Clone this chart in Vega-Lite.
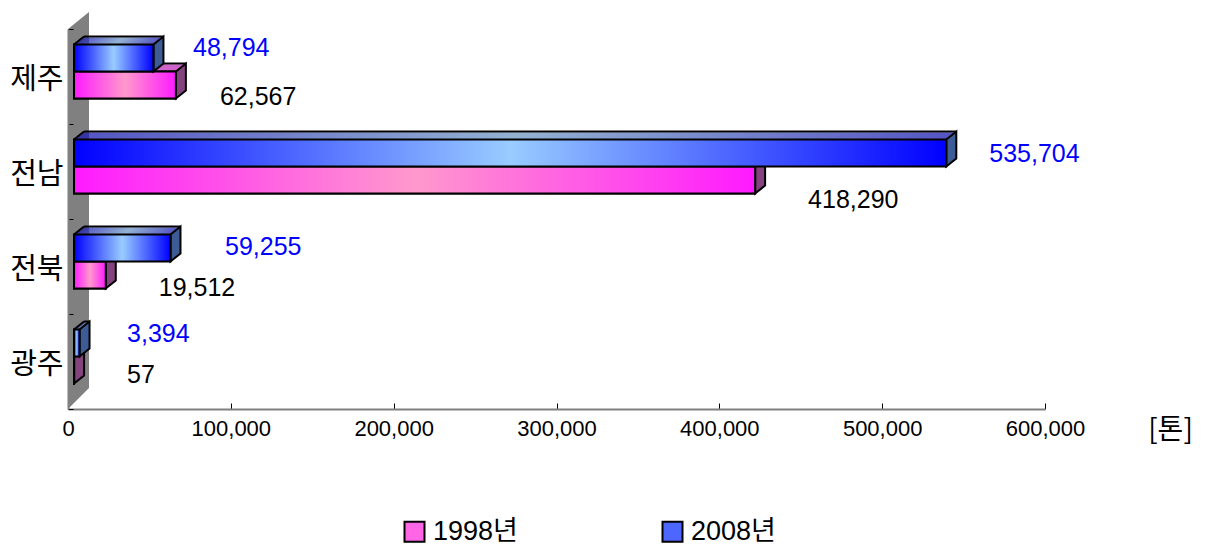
{"$schema":"https://vega.github.io/schema/vega-lite/v6.json","width":977,"height":380,"autosize":{"type":"none"},"padding":{"left":68,"top":29,"right":161,"bottom":137},"background":"white","config":{"view":{"stroke":null}},
"datasets":{"d":[{"region":"제주","year":"1998년","value":62567},{"region":"제주","year":"2008년","value":48794},{"region":"전남","year":"1998년","value":418290},{"region":"전남","year":"2008년","value":535704},{"region":"전북","year":"1998년","value":19512},{"region":"전북","year":"2008년","value":59255},{"region":"광주","year":"1998년","value":57},{"region":"광주","year":"2008년","value":3394}]},
"data":{"name":"d"},
"encoding":{"x":{"field":"value","type":"quantitative","scale":{"domain":[0,600000],"nice":false},"axis":{"title":"[톤]","titleFont":"Noto Sans CJK KR","titleFontWeight":"normal","titleFontSize":28,"titleColor":"#000","titleX":1102,"titleY":21,"titleBaseline":"middle","format":",d","values":[0,100000,200000,300000,400000,500000,600000],"grid":false,"tickSize":-6,"tickColor":"#000","domainColor":"#808080","domainWidth":2,"labelFont":"Liberation Sans","labelFontSize":22,"labelColor":"#000","labelPadding":25,"labelBaseline":"middle","labelOverlap":false,"labelFlush":false,"zindex":1}},
"y":{"field":"region","type":"nominal","sort":["제주","전남","전북","광주"],"scale":{"paddingInner":0,"paddingOuter":0},"axis":{"title":null,"tickSize":-5,"tickBand":"extent","tickColor":"#000","domainColor":"#808080","domainWidth":2,"labelFont":"Noto Sans CJK KR","labelFontSize":29,"labelColor":"#000","labelPadding":10,"labelOffset":3,"zindex":1}}},
"layer":[
{"transform":[{"filter":"datum.region=='광주'&&datum.year=='1998년'"}],"mark":{"type":"point","shape":"M0 0L21 -21L21 -397L0 -380Z","size":4,"filled":true,"fill":"#808080","opacity":1,"yOffset":47.5},"encoding":{"x":{"datum":0}}},

{"transform":[{"filter":"datum.year=='1998년'"}],"layer":[
{"mark":{"type":"bar","size":1,"xOffset":7.25,"x2Offset":7.25,"yOffset":-5.5,"fill":"#c030b8"},"encoding":{"x2":{"datum":0}}},
{"mark":{"type":"bar","size":1,"xOffset":8.5,"x2Offset":8.5,"yOffset":-6.5,"fill":"#c030b8"},"encoding":{"x2":{"datum":0}}},
{"mark":{"type":"bar","size":1,"xOffset":9.75,"x2Offset":9.75,"yOffset":-7.5,"fill":"#c030b8"},"encoding":{"x2":{"datum":0}}},
{"mark":{"type":"bar","size":1,"xOffset":11,"x2Offset":11,"yOffset":-8.5,"fill":"#c030b8"},"encoding":{"x2":{"datum":0}}},
{"mark":{"type":"bar","size":1,"xOffset":12.25,"x2Offset":12.25,"yOffset":-9.5,"fill":"#c030b8"},"encoding":{"x2":{"datum":0}}},
{"mark":{"type":"bar","size":1,"xOffset":13.5,"x2Offset":13.5,"yOffset":-10.5,"fill":"#c030b8"},"encoding":{"x2":{"datum":0}}},
{"mark":{"type":"bar","size":1,"xOffset":14.75,"x2Offset":14.75,"yOffset":-11.5,"fill":"#c030b8"},"encoding":{"x2":{"datum":0}}},
{"mark":{"type":"bar","size":2,"xOffset":16,"x2Offset":16,"yOffset":-13,"fill":"#000"},"encoding":{"x2":{"datum":0}}},
{"mark":{"type":"point","shape":"M0 0L10 -8","size":4,"fill":null,"stroke":"#000","strokeWidth":2,"opacity":1,"xOffset":6,"yOffset":-5},"encoding":{"x":{"datum":0}}},
{"mark":{"type":"point","shape":"M0 0L10 -8L10 19L0 27Z","size":4,"filled":true,"fill":"#84427f","stroke":"#000","strokeWidth":2,"opacity":1,"xOffset":6,"yOffset":-5}},
{"mark":{"type":"bar","size":27,"xOffset":6,"x2Offset":6,"yOffset":8.5,"stroke":"#000","strokeWidth":2},"encoding":{"x2":{"datum":0},"color":{"field":"year","type":"nominal","scale":{"domain":["1998년","2008년"],"range":["#ff66e6","#4d66ff"]},"legend":{"title":null,"orient":"none","legendX":333,"legendY":489,"direction":"horizontal","columns":2,"columnPadding":140,"symbolType":"square","symbolSize":400,"labelFont":"Liberation Sans, Noto Sans CJK KR","labelFontSize":27,"labelColor":"#000","labelOffset":5,"encoding":{"symbols":{"stroke":{"value":"#000"},"strokeWidth":{"value":2}}}}}}},
{"mark":{"type":"bar","size":27,"xOffset":6,"x2Offset":6,"yOffset":8.5,"stroke":"#000","strokeWidth":2,"fill":{"gradient":"linear","x1":0,"y1":0,"x2":1,"y2":0,"stops":[{"offset":0,"color":"#ff1aff"},{"offset":0.5,"color":"#ff99cc"},{"offset":1,"color":"#ff1aff"}]}},"encoding":{"x2":{"datum":0}}}
]},

{"transform":[{"filter":"datum.year=='2008년'"}],"layer":[
{"mark":{"type":"bar","size":1,"xOffset":7.25,"x2Offset":7.25,"yOffset":-32.5,"fill":{"gradient":"linear","x1":0,"y1":0,"x2":1,"y2":0,"stops":[{"offset":0,"color":"#1c1cb0"},{"offset":0.5,"color":"#7099c4"},{"offset":1,"color":"#1c1cb0"}]}},"encoding":{"x2":{"datum":0}}},
{"mark":{"type":"bar","size":1,"xOffset":8.5,"x2Offset":8.5,"yOffset":-33.5,"fill":{"gradient":"linear","x1":0,"y1":0,"x2":1,"y2":0,"stops":[{"offset":0,"color":"#1c1cb0"},{"offset":0.5,"color":"#7099c4"},{"offset":1,"color":"#1c1cb0"}]}},"encoding":{"x2":{"datum":0}}},
{"mark":{"type":"bar","size":1,"xOffset":9.75,"x2Offset":9.75,"yOffset":-34.5,"fill":{"gradient":"linear","x1":0,"y1":0,"x2":1,"y2":0,"stops":[{"offset":0,"color":"#1c1cb0"},{"offset":0.5,"color":"#7099c4"},{"offset":1,"color":"#1c1cb0"}]}},"encoding":{"x2":{"datum":0}}},
{"mark":{"type":"bar","size":1,"xOffset":11,"x2Offset":11,"yOffset":-35.5,"fill":{"gradient":"linear","x1":0,"y1":0,"x2":1,"y2":0,"stops":[{"offset":0,"color":"#1c1cb0"},{"offset":0.5,"color":"#7099c4"},{"offset":1,"color":"#1c1cb0"}]}},"encoding":{"x2":{"datum":0}}},
{"mark":{"type":"bar","size":1,"xOffset":12.25,"x2Offset":12.25,"yOffset":-36.5,"fill":{"gradient":"linear","x1":0,"y1":0,"x2":1,"y2":0,"stops":[{"offset":0,"color":"#1c1cb0"},{"offset":0.5,"color":"#7099c4"},{"offset":1,"color":"#1c1cb0"}]}},"encoding":{"x2":{"datum":0}}},
{"mark":{"type":"bar","size":1,"xOffset":13.5,"x2Offset":13.5,"yOffset":-37.5,"fill":{"gradient":"linear","x1":0,"y1":0,"x2":1,"y2":0,"stops":[{"offset":0,"color":"#1c1cb0"},{"offset":0.5,"color":"#7099c4"},{"offset":1,"color":"#1c1cb0"}]}},"encoding":{"x2":{"datum":0}}},
{"mark":{"type":"bar","size":1,"xOffset":14.75,"x2Offset":14.75,"yOffset":-38.5,"fill":{"gradient":"linear","x1":0,"y1":0,"x2":1,"y2":0,"stops":[{"offset":0,"color":"#1c1cb0"},{"offset":0.5,"color":"#7099c4"},{"offset":1,"color":"#1c1cb0"}]}},"encoding":{"x2":{"datum":0}}},
{"mark":{"type":"bar","size":2,"xOffset":16,"x2Offset":16,"yOffset":-40,"fill":"#000"},"encoding":{"x2":{"datum":0}}},
{"mark":{"type":"point","shape":"M0 0L10 -8","size":4,"fill":null,"stroke":"#000","strokeWidth":2,"opacity":1,"xOffset":6,"yOffset":-32},"encoding":{"x":{"datum":0}}},
{"mark":{"type":"point","shape":"M0 0L10 -8L10 19L0 27Z","size":4,"filled":true,"fill":"#3d5c96","stroke":"#000","strokeWidth":2,"opacity":1,"xOffset":6,"yOffset":-32}},
{"mark":{"type":"bar","size":27,"xOffset":6,"x2Offset":6,"yOffset":-18.5,"stroke":"#000","strokeWidth":2,"fill":{"gradient":"linear","x1":0,"y1":0,"x2":1,"y2":0,"stops":[{"offset":0,"color":"#0000ff"},{"offset":0.5,"color":"#99ccff"},{"offset":1,"color":"#0000ff"}]}},"encoding":{"x2":{"datum":0}}}
]},

{"transform":[{"filter":"datum.region=='제주'&&datum.year=='2008년'"}],"mark":{"type":"text","align":"left","baseline":"middle","font":"Liberation Sans","fontSize":25,"fill":"#0000ff","dx":45.6,"dy":-28.5},"encoding":{"text":{"field":"value","format":",d"}}},
{"transform":[{"filter":"datum.region=='제주'&&datum.year=='1998년'"}],"mark":{"type":"text","align":"left","baseline":"middle","font":"Liberation Sans","fontSize":25,"fill":"#000","dx":50,"dy":20.5},"encoding":{"text":{"field":"value","format":",d"}}},
{"transform":[{"filter":"datum.region=='전남'&&datum.year=='2008년'"}],"mark":{"type":"text","align":"left","baseline":"middle","font":"Liberation Sans","fontSize":25,"fill":"#0000ff","dx":49,"dy":-17.5},"encoding":{"text":{"field":"value","format":",d"}}},
{"transform":[{"filter":"datum.region=='전남'&&datum.year=='1998년'"}],"mark":{"type":"text","align":"left","baseline":"middle","font":"Liberation Sans","fontSize":25,"fill":"#000","dx":59,"dy":28.5},"encoding":{"text":{"field":"value","format":",d"}}},
{"transform":[{"filter":"datum.region=='전북'&&datum.year=='2008년'"}],"mark":{"type":"text","align":"left","baseline":"middle","font":"Liberation Sans","fontSize":25,"fill":"#0000ff","dx":60.5,"dy":-19.5},"encoding":{"text":{"field":"value","format":",d"}}},
{"transform":[{"filter":"datum.region=='전북'&&datum.year=='1998년'"}],"mark":{"type":"text","align":"left","baseline":"middle","font":"Liberation Sans","fontSize":25,"fill":"#000","dx":59,"dy":21.5},"encoding":{"text":{"field":"value","format":",d"}}},
{"transform":[{"filter":"datum.region=='광주'&&datum.year=='2008년'"}],"mark":{"type":"text","align":"left","baseline":"middle","font":"Liberation Sans","fontSize":25,"fill":"#0000ff","dx":53.5,"dy":-27.5},"encoding":{"text":{"field":"value","format":",d"}}},
{"transform":[{"filter":"datum.region=='광주'&&datum.year=='1998년'"}],"mark":{"type":"text","align":"left","baseline":"middle","font":"Liberation Sans","fontSize":25,"fill":"#000","dx":59,"dy":13.5},"encoding":{"text":{"field":"value","format":",d"}}}
]}
